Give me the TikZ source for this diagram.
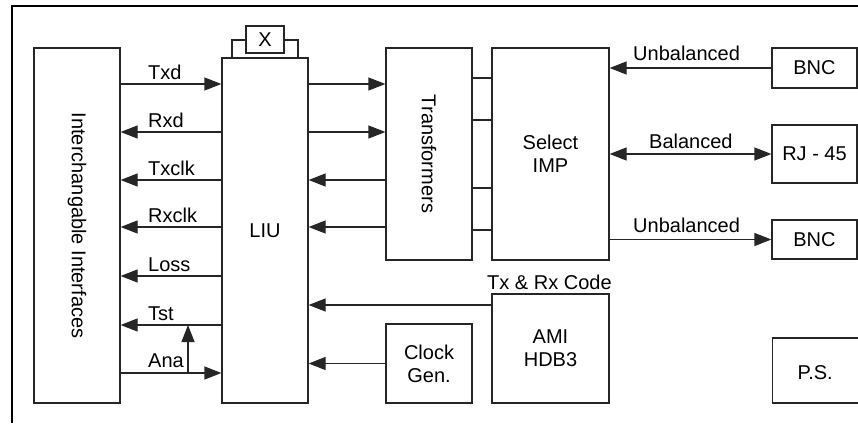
\documentclass[tikz,border=0pt]{standalone}
\usepackage{fontspec}
\setmainfont{Liberation Sans}
\usetikzlibrary{arrows.meta}
\begin{document}
\begin{tikzpicture}[x=1pt,y=-1pt,
  every node/.style={font=\fontsize{20}{23}\selectfont},
  box/.style={draw=black!85, line width=1.2pt, inner sep=0pt, align=center},
  conn/.style={draw=black!85, line width=1.2pt},
  arr/.style={conn, -{Triangle[length=17pt,width=13pt]}},
  darr/.style={conn, {Triangle[length=17pt,width=13pt]}-{Triangle[length=17pt,width=13pt]}},
  lab/.style={anchor=base west, inner sep=0pt}
]
\useasboundingbox (0,0) rectangle (858,423);
% outer frame
\draw[line width=1.2pt] (12,423) -- (12,6) -- (858,6);

% boxes
\node[box, minimum width=86pt, minimum height=355pt] (ic) at (77,225.5) {};
\node[rotate=-90] (ictext) at (77,225.5) {Interchangable Interfaces};
\node[box, minimum width=86pt, minimum height=345pt] (liu) at (265,230.5) {LIU};
\node[box, minimum width=38pt, minimum height=27pt] (x) at (265,39.5) {X};
\draw[conn] (232,58) -- (232,40) -- (x.west |- 232,40);
\draw[conn] (x.east |- 298,40) -- (298,40) -- (298,58);
\node[box, minimum width=86pt, minimum height=212pt] (tr) at (429,154) {};
\node[rotate=-90] (trtext) at (429,154) {Transformers};
\node[box, minimum width=117pt, minimum height=212pt] (sel) at (550.5,154) {Select\\IMP};
\node[box, minimum width=85pt, minimum height=40pt] (bnc1) at (814.5,68) {BNC};
\node[box, minimum width=85pt, minimum height=58pt] (rj) at (814.5,154) {RJ - 45};
\node[box, minimum width=85pt, minimum height=39pt] (bnc2) at (814.5,239.5) {BNC};
\node[box, minimum width=117pt, minimum height=109pt] (ami) at (550.5,348.5) {AMI\\HDB3};
\node[box, minimum width=86pt, minimum height=79pt] (clk) at (429,363.5) {Clock\\Gen.};
\node[box, minimum width=100pt, minimum height=65pt, anchor=west,
      label={[xshift=-7.5pt,yshift=-2pt]center:P.S.}] (ps) at (772,370.5) {};

% interface <-> LIU
\draw[arr] (ic.east |- 0,84) -- (liu.west |- 0,84);
\node[lab] (ltxd) at (148,79) {Txd};
\draw[arr] (liu.west |- 0,132) -- (ic.east |- 0,132);
\node[lab] (lrxd) at (148,127) {Rxd};
\draw[arr] (liu.west |- 0,180) -- (ic.east |- 0,180);
\node[lab] (ltxclk) at (148,175) {Txclk};
\draw[arr] (liu.west |- 0,227) -- (ic.east |- 0,227);
\node[lab] (lrxclk) at (148,222) {Rxclk};
\draw[arr] (liu.west |- 0,276) -- (ic.east |- 0,276);
\node[lab] (lloss) at (148,271) {Loss};
\draw[arr] (liu.west |- 0,325) -- (ic.east |- 0,325);
\node[lab] (ltst) at (148,320) {Tst};
\coordinate (anaj) at (188,373);
\coordinate (tstj) at (188,325);
\draw[arr] (ic.east |- 0,373) -- (liu.west |- 0,373);
\draw[arr] (anaj) -- (tstj);
\node[lab] (lana) at (148,367) {Ana};

% LIU <-> transformers
\draw[arr] (liu.east |- 0,84) -- (tr.west |- 0,84);
\draw[arr] (liu.east |- 0,132) -- (tr.west |- 0,132);
\draw[arr] (tr.west |- 0,180) -- (liu.east |- 0,180);
\draw[arr] (tr.west |- 0,227) -- (liu.east |- 0,227);

% transformers - select
\foreach \yy in {78,120,188,230} \draw[conn] (tr.east |- 0,\yy) -- (sel.west |- 0,\yy);

% select - connectors
\draw[arr] (bnc1.west) -- (sel.east |- bnc1.west);
\node[lab] (lub1) at (633,60) {Unbalanced};
\draw[darr] (sel.east) -- (rj.west);
\node[lab] (lbal) at (649,148) {Balanced};
\draw[arr] (sel.east |- bnc2.west) -- (bnc2.west);
\node[lab] (lub2) at (633,232) {Unbalanced};

% AMI / clock -> LIU
\draw[arr] (ami.west |- 0,305) -- (liu.east |- 0,305);
\node[lab] (lcode) at (487,289) {Tx \& Rx Code};
\draw[arr] (clk.west) -- (liu.east |- clk.west);
\end{tikzpicture}
\end{document}
